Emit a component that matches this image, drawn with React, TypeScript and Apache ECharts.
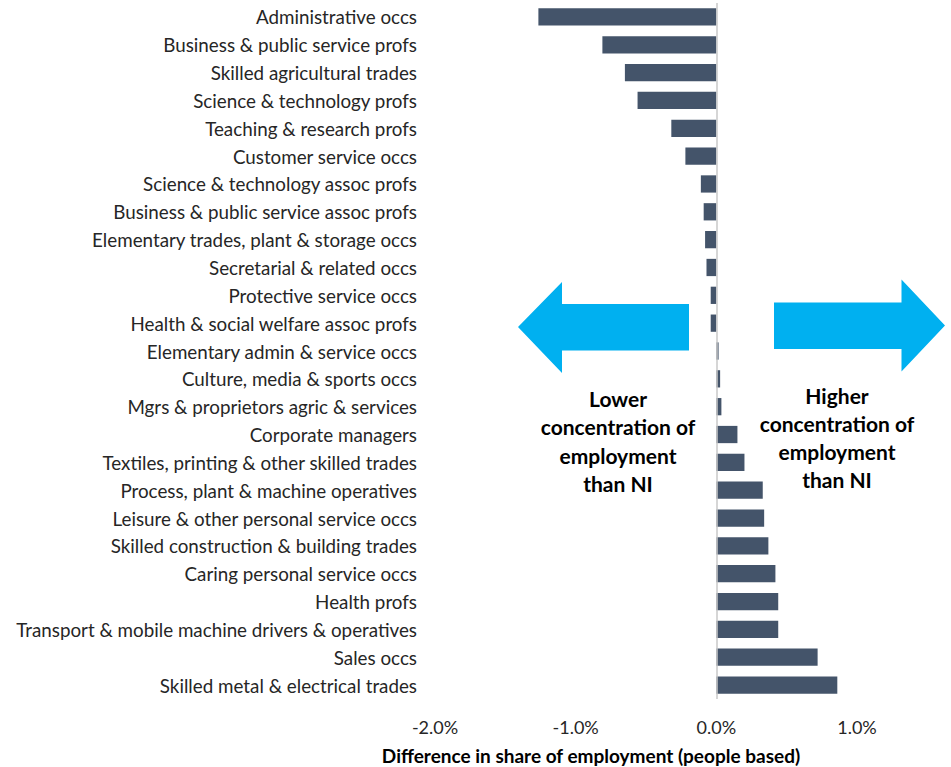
import React, { useEffect, useRef } from "react";
import * as echarts from "echarts";

const categories = [
  "Administrative occs",
  "Business & public service profs",
  "Skilled agricultural trades",
  "Science & technology profs",
  "Teaching & research profs",
  "Customer service occs",
  "Science & technology assoc profs",
  "Business & public service assoc profs",
  "Elementary trades, plant & storage occs",
  "Secretarial & related occs",
  "Protective service occs",
  "Health & social welfare assoc profs",
  "Elementary admin & service occs",
  "Culture, media & sports occs",
  "Mgrs & proprietors agric & services",
  "Corporate managers",
  "Textiles, printing & other skilled trades",
  "Process, plant & machine operatives",
  "Leisure & other personal service occs",
  "Skilled construction & building trades",
  "Caring personal service occs",
  "Health profs",
  "Transport & mobile machine drivers & operatives",
  "Sales occs",
  "Skilled metal & electrical trades",
];

const differences = [
  -1.265, -0.81, -0.65, -0.56, -0.32, -0.22, -0.11, -0.09, -0.08, -0.07, -0.04,
  -0.04, 0.016, 0.027, 0.036, 0.15, 0.2, 0.33, 0.34, 0.37, 0.42, 0.44, 0.44,
  0.72, 0.86,
];

const axisMin = -2;
const axisMax = 1;
const axisStep = 1;

const axisTitle = "Difference in share of employment (people based)";
const lowerText = ["Lower", "concentration of", "employment", "than NI"];
const higherText = ["Higher", "concentration of", "employment", "than NI"];

const FONT = "Lato";
const ARROW = "#00B0F0";

export default function App() {
  const ref = useRef<HTMLDivElement>(null);
  useEffect(() => {
    if (!ref.current) return;
    const chart = echarts.init(ref.current, undefined, { renderer: "svg" });
    const lines = (arr: string[], x: number, y0: number, dy: number) =>
      arr.map((t, i) => ({
        type: "text",
        x,
        y: y0 + i * dy,
        style: {
          text: t,
          fill: "#000",
          font: `bold 21px ${FONT}`,
          textAlign: "center",
          textVerticalAlign: "middle",
        },
      }));
    chart.setOption({
      animation: false,
      textStyle: { fontFamily: FONT },
      grid: { left: 435, right: 94, top: 3, bottom: 68, containLabel: false },
      xAxis: {
        type: "value",
        min: axisMin,
        max: axisMax,
        interval: axisStep,
        splitLine: { show: false },
        axisLine: { show: false },
        axisTick: { show: false },
        axisLabel: {
          formatter: (v: number) => v.toFixed(1) + "%",
          fontSize: 18,
          color: "#262626",
          margin: 19,
          fontFamily: FONT,
        },
      },
      yAxis: {
        type: "category",
        data: categories,
        inverse: true,
        axisLine: { show: false },
        axisTick: { show: false },
        splitLine: { show: false },
        axisLabel: {
          fontSize: 18.8,
          color: "#262626",
          margin: 18,
          fontFamily: FONT,
        },
      },
      series: [
        {
          type: "bar",
          data: differences,
          barCategoryGap: "38%",
          barMinHeight: 2,
          itemStyle: { color: "#44546A" },
          markLine: {
            silent: true,
            symbol: "none",
            label: { show: false },
            lineStyle: { color: "#c8c8c8", type: "solid", width: 1.5 },
            data: [{ xAxis: 0 }],
          },
        },
      ],
      graphic: [
        {
          type: "polygon",
          shape: {
            points: [
              [518, 327],
              [562, 282],
              [562, 304],
              [689, 304],
              [689, 350.5],
              [562, 350.5],
              [562, 373],
            ],
          },
          style: { fill: ARROW },
        },
        {
          type: "polygon",
          shape: {
            points: [
              [945, 325.5],
              [901.5, 279.5],
              [901.5, 302.5],
              [774, 302.5],
              [774, 349],
              [901.5, 349],
              [901.5, 371.5],
            ],
          },
          style: { fill: ARROW },
        },
        ...lines(lowerText, 618, 398, 28.5),
        ...lines(higherText, 837, 395, 28),
        {
          type: "text",
          x: 591,
          y: 755,
          style: {
            text: axisTitle,
            fill: "#000",
            font: `bold 19px ${FONT}`,
            textAlign: "center",
            textVerticalAlign: "middle",
          },
        },
      ],
    });
    return () => chart.dispose();
  }, []);
  return (
    <div
      ref={ref}
      style={{ position: "fixed", left: 0, top: 0, width: 951, height: 767, background: "#fff" }}
    />
  );
}
